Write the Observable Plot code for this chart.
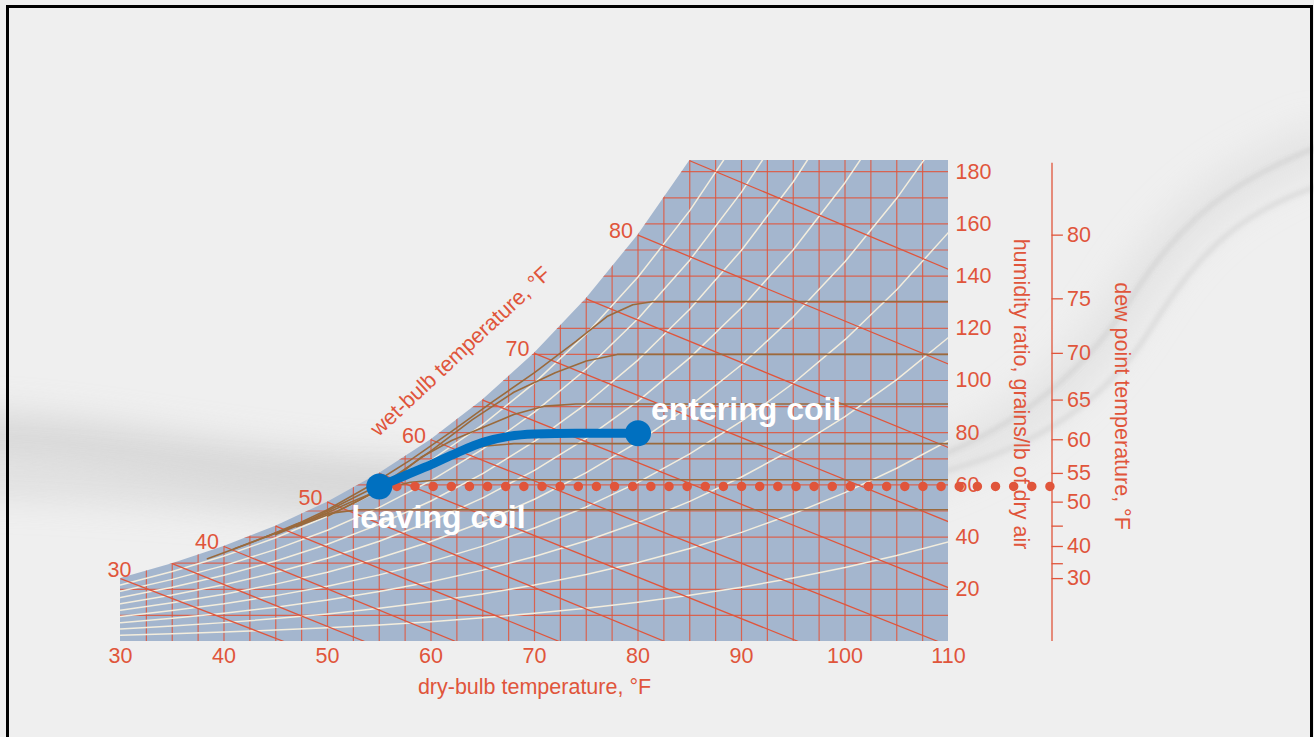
<!DOCTYPE html>
<html>
<head>
<meta charset="utf-8">
<script src="https://cdn.jsdelivr.net/npm/d3@7"></script>
<script src="https://cdn.jsdelivr.net/npm/@observablehq/plot@0.6"></script>
<style>
html, body { margin: 0; padding: 0; background: #efefef; }
#wrap { position: relative; width: 1314px; height: 737px; overflow: hidden; background: #efefef; font-family: "Liberation Sans", Arial, sans-serif; }
#bg { position: absolute; left: 0; top: 0; }
#chart { position: absolute; left: 0; top: 0; }
#frame { position: absolute; left: 6px; top: 5px; width: 1307px; height: 800px; border: 3px solid #000; box-sizing: border-box; pointer-events: none; }
</style>
</head>
<body>
<div id="wrap">
  <svg id="bg" width="1314" height="737">
    <defs>
      <filter id="b1" filterUnits="userSpaceOnUse" x="-100" y="-100" width="1514" height="937"><feGaussianBlur stdDeviation="18"/></filter>
      <filter id="b2" filterUnits="userSpaceOnUse" x="-100" y="-100" width="1514" height="937"><feGaussianBlur stdDeviation="2.5"/></filter>
    </defs>
    <path d="M -60,435 C 100,435 230,478 430,485" stroke="#d2d2d2" stroke-width="44" fill="none" filter="url(#b1)" opacity="0.85"/>
    <path d="M -60,480 C 120,478 250,505 430,500" stroke="#d4d4d4" stroke-width="28" fill="none" filter="url(#b1)" opacity="0.7"/>
    <path d="M 900,475 C 1010,445 1080,380 1130,300 S 1230,180 1330,142" stroke="#dedede" stroke-width="40" fill="none" filter="url(#b1)" opacity="0.7"/>
    <path d="M 900,470 C 1000,440 1080,380 1130,300 S 1230,180 1330,142" stroke="#cfcfcf" stroke-width="4" fill="none" filter="url(#b2)" opacity="0.85"/>
    <path d="M 900,482 C 1020,458 1100,410 1150,330 S 1240,210 1330,182" stroke="#d2d2d2" stroke-width="4" fill="none" filter="url(#b2)" opacity="0.8"/>
  </svg>
  <div id="chart"></div>
  <div id="frame"></div>
</div>
<script>
// ---- data ----
const dryBulb   = [30, 35, 40, 45, 50, 55, 60, 65, 70, 75, 80, 85, 90, 95, 100, 105, 110];
const satGrains = [24.1, 29.8, 36.4, 44.2, 53.4, 64.4, 77.3, 92.5, 110.4, 131.3, 155.7, 184.2, 217.4, 256.1, 301.1, 353.4, 414.2];
const rhLevels  = [10, 20, 30, 40, 50, 60, 70, 80, 90];
const wetBulbs     = [30, 35, 40, 45, 50, 55, 60, 65, 70, 75, 80, 85];
const wetBulbEndT  = [45.8, 53.6, 62.4, 72.4, 82.6, 95.5, 109, 110, 110, 110, 110, 110];
const wetBulbEndW  = [0, 0, 0, 0, 0, 0, 0, 20.6, 45.9, 74.3, 106.3, 142.6];
const wetBulbLabels = [40, 50, 60, 70, 80];
const wetBulbFirstLabel = [30];
const dryBulbTicks  = [30, 40, 50, 60, 70, 80, 90, 100, 110];
const humidityTicks = [20, 40, 60, 80, 100, 120, 140, 160, 180];
const dewPointTicks  = [30, 35, 40, 45, 50, 55, 60, 65, 70, 75, 80];
const dewPointLabels = [30, 40, 50, 55, 60, 65, 70, 75, 80];
const gridT = [32.5, 35, 37.5, 40, 42.5, 45, 47.5, 50, 52.5, 55, 57.5, 60, 62.5, 65, 67.5, 70, 72.5, 75, 77.5, 80, 82.5, 85, 87.5, 90, 92.5, 95, 97.5, 100, 102.5, 105, 107.5];
const gridW = [10, 20, 30, 40, 50, 60, 70, 80, 90, 100, 110, 120, 130, 140, 150, 160, 170, 180];

const brownT = [
  [38.4, 42, 46, 50, 54, 58, 62, 66, 70, 74, 77, 79.5, 81.5, 110],
  [44, 48, 52, 56, 60, 64, 68, 72, 75, 78, 110],
  [47, 51, 55, 59, 62, 65, 68, 71, 74, 110],
  [50, 53, 56, 59, 62, 65, 68, 110],
  [45, 49, 52, 55, 58, 61, 110],
  [41, 44, 47, 50, 53, 110]
];
const brownW = [
  [31.7, 37, 43, 50.5, 59.5, 69.5, 80.5, 92, 103, 115, 124.5, 129, 130.3, 130.3],
  [40, 46, 54, 62, 73, 85, 95.5, 103, 107.5, 110, 110],
  [44, 50, 58, 70.5, 77, 82, 87, 90.2, 91, 91],
  [48, 54, 60.5, 67, 72, 74.8, 75.8, 75.8],
  [41, 47.5, 53, 58, 61, 62, 62],
  [35.5, 40, 45, 49, 50.5, 50.5]
];

const coilT = [55, 57.5, 60, 62.5, 65, 67.5, 70, 74, 80];
const coilW = [59.4, 63.6, 67.8, 72.3, 76.3, 78.6, 79.5, 79.8, 79.8];
const leaving  = {T: 55, W: 59.4, label: "leaving coil"};
const entering = {T: 80, W: 79.8, label: "entering coil"};
const dewAxisT = 120;

// ---- derived tables ----
const P = 14.696;
const satAt = t => satGrains[dryBulb.indexOf(t)];
const satData = dryBulb.map((T, i) => ({T, W: satGrains[i]}));
const rhData = [];
for (const rh of rhLevels) {
  dryBulb.forEach((T, i) => {
    const w = satGrains[i] / 7000;
    const ps = P * w / (0.622 + w);
    const pv = rh / 100 * ps;
    rhData.push({rh, T, W: 0.622 * pv / (P - pv) * 7000});
  });
}
const wbData = wetBulbs.map((wb, i) => ({wb, x1: wb, y1: satAt(wb), x2: wetBulbEndT[i], y2: wetBulbEndW[i]}));
const brownData = brownT.flatMap((ts, k) => ts.map((T, j) => ({id: k, T, W: brownW[k][j]})));
const coilData = coilT.map((T, i) => ({T, W: coilW[i]}));

const RED = "#e0553b";
const FONT = "21.5px";

const chart = Plot.plot({
  width: 1314,
  height: 737,
  marginLeft: 120,
  marginRight: 366,
  marginTop: 160,
  marginBottom: 96,
  style: {background: "transparent", color: RED, fontFamily: "'Liberation Sans', Arial, sans-serif", fontSize: FONT},
  x: {domain: [30, 110], ticks: dryBulbTicks, tickSize: 0, tickPadding: 6, label: null},
  y: {domain: [0, 184.3], axis: "right", ticks: humidityTicks, tickSize: 0, tickPadding: 7, label: null},
  marks: [
    Plot.areaY(satData, {x: "T", y: "W", fill: "#a4b6ce", clip: true, ariaDescription: "saturation"}),
    Plot.ruleX(gridT, {stroke: RED, strokeWidth: 1.2, strokeOpacity: 0.85, clip: true, ariaDescription: "clip-sat"}),
    Plot.ruleY(gridW, {stroke: RED, strokeWidth: 1.2, strokeOpacity: 0.85, clip: true, ariaDescription: "clip-sat"}),
    Plot.line(rhData, {x: "T", y: "W", z: "rh", stroke: "#f3eddd", strokeWidth: 1.5, clip: true, ariaDescription: "clip-sat"}),
    Plot.link(wbData, {x1: "x1", y1: "y1", x2: "x2", y2: "y2", stroke: RED, strokeWidth: 1.3, clip: true}),
    Plot.line(brownData, {x: "T", y: "W", z: "id", stroke: "#9a6a3c", strokeWidth: 1.6, clip: true}),
    // dew point axis
    Plot.ruleX([dewAxisT], {y1: 0, y2: 183.2, stroke: RED, strokeWidth: 1.3}),
    Plot.ruleY(dewPointTicks, {y: d => satAt(d), x1: dewAxisT, x2: dewAxisT + 1.1, stroke: RED, strokeWidth: 1.3}),
    Plot.text(dewPointLabels, {x: dewAxisT, y: d => satAt(d), text: d => String(d), textAnchor: "start", dx: 15, fill: RED, fontSize: FONT}),
    // wet-bulb labels
    Plot.text(wetBulbLabels, {x: d => d, y: d => satAt(d), text: d => String(d), textAnchor: "end", dx: -5, dy: -4, fill: RED, fontSize: FONT}),
    Plot.text(wetBulbFirstLabel, {x: d => d, y: d => satAt(d), text: d => String(d), textAnchor: "end", dx: 11, dy: -8, fill: RED, fontSize: FONT}),
    // axis titles
    Plot.text(["dry-bulb temperature, °F"], {frameAnchor: "bottom", textAnchor: "middle", lineAnchor: "middle", dy: 46, fill: RED, fontSize: FONT}),
    Plot.text(["humidity ratio, grains/lb of dry air"], {frameAnchor: "right", textAnchor: "middle", lineAnchor: "middle", dx: 72, dy: -7, rotate: 90, fill: RED, fontSize: FONT}),
    Plot.text(["dew point temperature, °F"], {frameAnchor: "right", textAnchor: "middle", lineAnchor: "middle", dx: 173, dy: 5, rotate: 90, fill: RED, fontSize: FONT}),
    Plot.text(["wet-bulb temperature, °F"], {frameAnchor: "top-left", textAnchor: "middle", lineAnchor: "middle", dx: 340, dy: 191, rotate: -43, fill: RED, fontSize: FONT}),
    // process
    Plot.ruleY([leaving], {y: "W", x1: leaving.T, x2: dewAxisT, stroke: RED, strokeWidth: 9.5, strokeLinecap: "round", strokeDasharray: "0 18.14"}),
    Plot.line(coilData, {x: "T", y: "W", stroke: "#0070c0", strokeWidth: 9, curve: "monotone-x"}),
    Plot.dot([leaving, entering], {x: "T", y: "W", r: 13, fill: "#0070c0"}),
    Plot.text([entering], {x: "T", y: "W", text: "label", textAnchor: "start", lineAnchor: "middle", dx: 13, dy: -23, fill: "white", fontWeight: "bold", fontSize: "32px"}),
    Plot.text([leaving], {x: "T", y: "W", text: "label", textAnchor: "start", lineAnchor: "middle", dx: -28, dy: 31, fill: "white", fontWeight: "bold", fontSize: "32px"})
  ]
});

const svg = chart.tagName.toLowerCase() === "svg" ? chart : chart.querySelector("svg");
document.getElementById("chart").appendChild(chart);

// clip grid + RH lines to the saturation area, using the area path Plot drew
(function () {
  const ns = "http://www.w3.org/2000/svg";
  const areaPath = svg.querySelector('g[aria-description="saturation"] path');
  if (!areaPath) return;
  const defs = document.createElementNS(ns, "defs");
  const cp = document.createElementNS(ns, "clipPath");
  cp.setAttribute("id", "satClip");
  const p = document.createElementNS(ns, "path");
  p.setAttribute("d", areaPath.getAttribute("d"));
  const t = areaPath.parentNode.getAttribute("transform");
  if (t) p.setAttribute("transform", t);
  cp.appendChild(p);
  defs.appendChild(cp);
  svg.insertBefore(defs, svg.firstChild);
  svg.querySelectorAll('g[aria-description="clip-sat"]').forEach(g => {
    const w = document.createElementNS(ns, "g");
    w.setAttribute("clip-path", "url(#satClip)");
    g.parentNode.insertBefore(w, g);
    w.appendChild(g);
  });
})();
</script>
</body>
</html>
